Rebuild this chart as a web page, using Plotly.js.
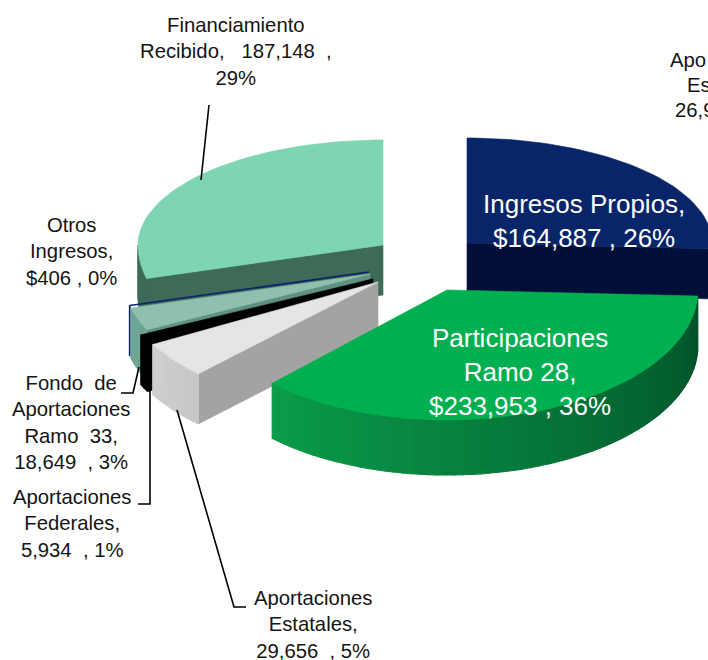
<!DOCTYPE html>
<html><head><meta charset="utf-8">
<script src="https://cdn.plot.ly/plotly-3.0.1.min.js"></script>
<style>html,body{margin:0;padding:0;background:#fff;overflow:hidden}#c{width:708px;height:660px}</style>
</head><body><div id="c"></div>
<script>
// Data, clockwise from 12 o'clock
const categories = ["Ingresos Propios","Participaciones Ramo 28","Aportaciones Estatales","Aportaciones Federales","Fondo de Aportaciones Ramo 33","Otros Ingresos","Financiamiento Recibido"];
const values = [164887,233953,29656,5934,18649,406,187148];

// Exploded position and 3D styling of each slice
const apexX = [467,447,378,373,370,369,383];
const apexY = [243,290,282,279,274,272,245];
const radiusX = [245,251,258,258,248,248,245];
const depth = [50,55,50,50,50,50,50];
const frontRadiusYs = [128,130,128,128,128,128,128];
const topColors = ["#072568","#00b050","#e5e5e5","#000000","#8fc0ae","#0b1f6e","#7ed5b2"];
const outerFrom = ["#020f38","#0b9c4a","#cfcfcf","#000000","#6ea596","#0b1f6e","#3d6b58"];
const outerTo   = ["#020f38","#004f28","#c6c6c6","#000000","#6ea596","#0b1f6e","#3d6b58"];
const radialColors = ["#020f38",null,"#a3a3a3","#000000","#5f9080",null,"#3d6b58"];
const radialAtEnd = [true,false,false,false,false,false,false];
const strokeWidth = [0,0,0,0,0,1.6,0];
const drawOrder = [6,0,5,4,3,2,1];
const backRadiusY = 105;

// Labels
const labelTexts = [
 "Financiamiento<br>Recibido,   187,148  ,<br>29%",
 "Otros<br>Ingresos,<br>$406 , 0%",
 "Fondo  de<br>Aportaciones<br>Ramo  33,<br>18,649  , 3%",
 "Aportaciones<br>Federales,<br>5,934  , 1%",
 "Aportaciones<br>Estatales,<br>29,656  , 5%"];
const labelX = [236,71,71,72,313];
const labelY = [51,251,422,523,624];
const insideTexts = ["Ingresos Propios,<br>$164,887 , 26%","Participaciones<br>Ramo 28,<br>$233,953 , 36%"];
const insideX = [584,520];
const insideY = [221,372];
const clippedTexts = ["Apo","Es","26,9"];
const clippedX = [668,685,673];
const clippedY = [60,85,110];
const leaderPaths = [
 "M209,105 L201,180",
 "M121,393 L133,393 L139,367",
 "M138,504 L150,504 L150,386",
 "M177,410 L234,607 L246,607"];

const total = values.reduce((a,b)=>a+b,0);
const starts = []; let run = 0;
values.forEach(v=>{starts.push(run/total*360); run+=v;});

function pt(i,deg,dy){
  const r=deg*Math.PI/180, c=Math.cos(r);
  const ry = c>0?backRadiusY:frontRadiusYs[i];
  return [apexX[i]+radiusX[i]*Math.sin(r), apexY[i]-ry*c+(dy||0)];
}
function hex(a,b,t){
  const p=s=>[1,3,5].map(k=>parseInt(s.substr(k,2),16));
  const A=p(a),B=p(b);
  return "rgb("+A.map((v,k)=>Math.round(v+(B[k]-v)*t)).join(",")+")";
}
const traces=[];
function poly(points,color,lw,name){
  const xs=points.map(q=>q[0]), ys=points.map(q=>q[1]);
  xs.push(xs[0]); ys.push(ys[0]);
  traces.push({type:"scatter",mode:"lines",x:xs,y:ys,fill:"toself",fillcolor:color,
    line:{color:color,width:lw},hoverinfo:"text",text:name,showlegend:false,name:name});
}
drawOrder.forEach(i=>{
  const a=starts[i], b=a+values[i]/total*360, d=depth[i], name=categories[i];
  // radial wall
  if(radialColors[i]){
    const ang=radialAtEnd[i]?b:a;
    poly([[apexX[i],apexY[i]],pt(i,ang),pt(i,ang,d),[apexX[i],apexY[i]+d]],radialColors[i],strokeWidth[i]||0.6,name);
  }
  // outer curved wall, split for shading
  const wa=Math.max(a,90), wb=Math.min(b,270);
  if(wb>wa){
    const steps=Math.max(1,Math.ceil((wb-wa)/2));
    for(let s=0;s<steps;s++){
      const p=wa+(wb-wa)*s/steps, q=wa+(wb-wa)*(s+1)/steps;
      // colour runs from the left end of the wall to the right end
      const t=1-(s+0.5)/steps;
      poly([pt(i,p),pt(i,q),pt(i,q,d),pt(i,p,d)],hex(outerFrom[i],outerTo[i],t),strokeWidth[i]||1.2,name);
    }
  }
  // top face
  const pts=[[apexX[i],apexY[i]]];
  const n=Math.max(2,Math.ceil((b-a)/2));
  for(let k=0;k<=n;k++) pts.push(pt(i,a+(b-a)*k/n));
  poly(pts,topColors[i],strokeWidth[i]||0.6,name);
});

const font="'Liberation Sans',Arial,sans-serif";
const annotations=[];
labelTexts.forEach((t,k)=>annotations.push({x:labelX[k],y:labelY[k],xref:"x",yref:"y",text:t,showarrow:false,
  xanchor:"center",yanchor:"middle",align:"center",font:{family:font,size:20.3,color:"#141414"}}));
insideTexts.forEach((t,k)=>annotations.push({x:insideX[k],y:insideY[k],xref:"x",yref:"y",text:t,showarrow:false,
  xanchor:"center",yanchor:"middle",align:"center",font:{family:font,size:26,color:"#ffffff"}}));
clippedTexts.forEach((t,k)=>annotations.push({x:clippedX[k],y:clippedY[k],xref:"x",yref:"y",text:t,showarrow:false,
  xanchor:"left",yanchor:"middle",align:"left",font:{family:font,size:20.3,color:"#141414"}}));

const shapes=leaderPaths.map(p=>({type:"path",path:p,xref:"x",yref:"y",line:{color:"#000",width:1.6},fillcolor:"rgba(0,0,0,0)"}));
const axis={visible:false,fixedrange:true,showgrid:false,zeroline:false};
Plotly.newPlot("c",traces,{
  width:708,height:660,margin:{l:0,r:0,t:0,b:0},paper_bgcolor:"#fff",plot_bgcolor:"#fff",showlegend:false,
  xaxis:Object.assign({range:[0,708]},axis),yaxis:Object.assign({range:[660,0]},axis),
  annotations:annotations,shapes:shapes,hovermode:"closest"
},{displayModeBar:false,responsive:false});
</script></body></html>
